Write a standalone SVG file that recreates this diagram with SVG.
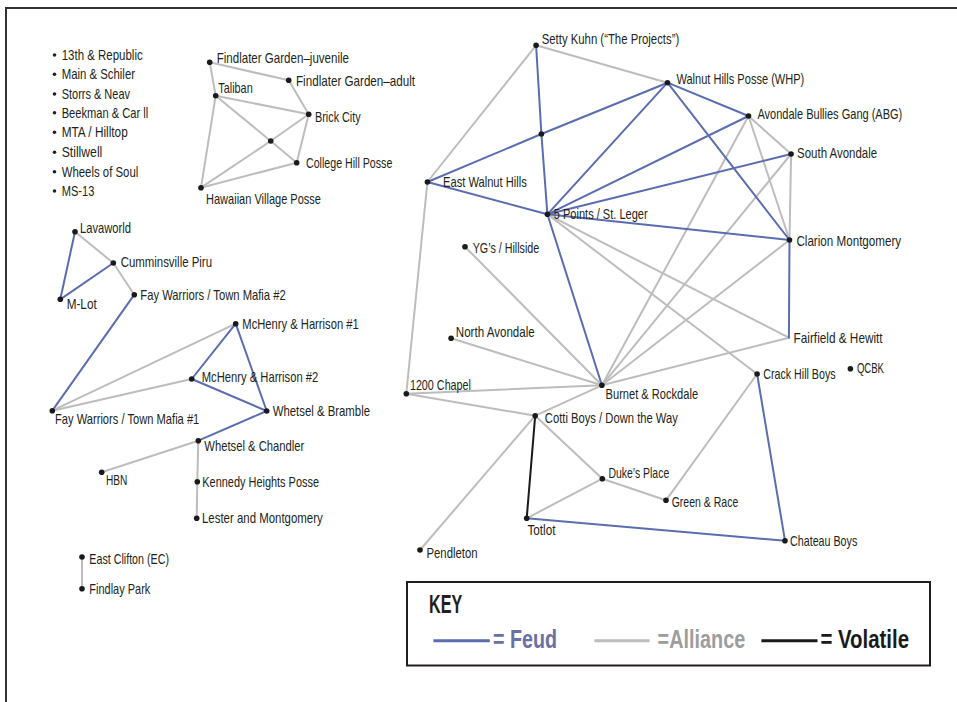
<svg xmlns="http://www.w3.org/2000/svg" width="957" height="702" viewBox="0 0 957 702">
<style>
text{font-family:"Liberation Sans",Arial,sans-serif;font-size:14.5px;fill:#231f20}
.lbl{lengthAdjust:spacingAndGlyphs}
.f{stroke:#5b6db0;stroke-width:2;fill:none;stroke-linecap:round}
.a{stroke:#bdbdbd;stroke-width:2;fill:none;stroke-linecap:round}
.v{stroke:#1a1a1a;stroke-width:2;fill:none;stroke-linecap:round}
.d{fill:#1a1a1a}
.b{fill:#231f20}
.key{font-weight:bold;font-size:25px}
</style>
<rect x="0" y="0" width="957" height="702" fill="#fff"/>
<path d="M6,702 V8 H957" fill="none" stroke="#333" stroke-width="2"/>

<g id="connectors">
<!-- Findlater cluster -->
<line class="a" x1="209.7" y1="62.3" x2="288.7" y2="80.3"/>
<line class="a" x1="209.7" y1="62.3" x2="215.7" y2="95.7"/>
<line class="a" x1="288.7" y1="80.3" x2="308.7" y2="114.3"/>
<line class="a" x1="215.7" y1="95.7" x2="308.7" y2="114.3"/>
<line class="a" x1="215.7" y1="95.7" x2="270.7" y2="141"/>
<line class="a" x1="270.7" y1="141" x2="296.7" y2="162.7"/>
<line class="a" x1="201" y1="187.7" x2="270.7" y2="141"/>
<line class="a" x1="270.7" y1="141" x2="308.7" y2="114.3"/>
<line class="a" x1="308.7" y1="114.3" x2="296.7" y2="162.7"/>
<line class="a" x1="201" y1="187.7" x2="296.7" y2="162.7"/>
<line class="a" x1="215.7" y1="95.7" x2="201" y2="187.7"/>
<!-- Left cluster -->
<line class="a" x1="75" y1="231.7" x2="113.3" y2="263"/>
<line class="f" x1="75" y1="231.7" x2="60.3" y2="299.3"/>
<line class="f" x1="60.3" y1="299.3" x2="113.3" y2="263"/>
<line class="a" x1="113.3" y1="263" x2="134.3" y2="294.7"/>
<line class="f" x1="134.3" y1="294.7" x2="52.3" y2="410.7"/>
<line class="a" x1="52.3" y1="410.7" x2="235.7" y2="323.7"/>
<line class="a" x1="52.3" y1="410.7" x2="191.7" y2="379"/>
<line class="f" x1="235.7" y1="323.7" x2="191.7" y2="379"/>
<line class="f" x1="235.7" y1="323.7" x2="266.7" y2="411"/>
<line class="f" x1="191.7" y1="379" x2="266.7" y2="411"/>
<line class="f" x1="266.7" y1="411" x2="198.3" y2="440.7"/>
<line class="a" x1="198.3" y1="440.7" x2="101.7" y2="472.3"/>
<line class="a" x1="198.3" y1="440.7" x2="197.3" y2="481.7"/>
<line class="a" x1="197.3" y1="481.7" x2="196.7" y2="518.3"/>
<line class="a" x1="82" y1="557" x2="82" y2="588.7"/>
<!-- Right cluster: alliances -->
<line class="a" x1="536.1" y1="45.3" x2="667.5" y2="82.7"/>
<line class="a" x1="536.1" y1="45.3" x2="427.4" y2="182"/>
<line class="a" x1="427.4" y1="182" x2="406.3" y2="393.7"/>
<line class="a" x1="748.5" y1="116" x2="791.1" y2="154"/>
<line class="a" x1="748.5" y1="116" x2="789.5" y2="240"/>
<line class="a" x1="791.1" y1="154" x2="789.5" y2="240"/>
<line class="a" x1="748.5" y1="116" x2="601.9" y2="385.3"/>
<line class="a" x1="791.1" y1="154" x2="601.9" y2="385.3"/>
<line class="a" x1="789.5" y1="240" x2="601.9" y2="385.3"/>
<line class="a" x1="788.9" y1="337.7" x2="601.9" y2="385.3"/>
<line class="a" x1="547.4" y1="214.3" x2="788.9" y2="337.7"/>
<line class="a" x1="547.4" y1="214.3" x2="757.1" y2="374"/>
<line class="a" x1="465" y1="246.7" x2="601.9" y2="385.3"/>
<line class="a" x1="451.1" y1="338.3" x2="601.9" y2="385.3"/>
<line class="a" x1="406.3" y1="393.7" x2="601.9" y2="385.3"/>
<line class="a" x1="406.3" y1="393.7" x2="535.2" y2="415.7"/>
<line class="a" x1="601.9" y1="385.3" x2="535.2" y2="415.7"/>
<line class="a" x1="535.2" y1="415.7" x2="420" y2="550"/>
<line class="a" x1="535.2" y1="415.7" x2="602.3" y2="478.7"/>
<line class="a" x1="602.3" y1="478.7" x2="526.7" y2="518.3"/>
<line class="a" x1="602.3" y1="478.7" x2="666" y2="500.3"/>
<line class="a" x1="666" y1="500.3" x2="757.1" y2="374"/>
<!-- Right cluster: feuds -->
<line class="f" x1="536.1" y1="45.3" x2="541.4" y2="134"/>
<line class="f" x1="541.4" y1="134" x2="547.4" y2="214.3"/>
<line class="f" x1="427.4" y1="182" x2="541.4" y2="134"/>
<line class="f" x1="541.4" y1="134" x2="667.5" y2="82.7"/>
<line class="f" x1="427.4" y1="182" x2="547.4" y2="214.3"/>
<line class="f" x1="667.5" y1="82.7" x2="547.4" y2="214.3"/>
<line class="f" x1="667.5" y1="82.7" x2="748.5" y2="116"/>
<line class="f" x1="667.5" y1="82.7" x2="789.5" y2="240"/>
<line class="f" x1="748.5" y1="116" x2="547.4" y2="214.3"/>
<line class="f" x1="791.1" y1="154" x2="547.4" y2="214.3"/>
<line class="f" x1="547.4" y1="214.3" x2="789.5" y2="240"/>
<line class="f" x1="789.5" y1="240" x2="788.9" y2="337.7"/>
<line class="f" x1="547.4" y1="214.3" x2="601.9" y2="385.3"/>
<line class="f" x1="757.1" y1="374" x2="785" y2="540.7"/>
<line class="f" x1="526.7" y1="518.3" x2="785" y2="540.7"/>
<!-- volatile -->
<line class="v" x1="535.2" y1="415.7" x2="526.7" y2="518.3"/>
</g>

<g id="list">
<circle class="b" cx="54.5" cy="55" r="1.8"/><text x="61.7" y="60" textLength="81" lengthAdjust="spacingAndGlyphs">13th &amp; Republic</text>
<circle class="b" cx="54.5" cy="74.3" r="1.8"/><text x="61.7" y="79.3" textLength="73.3" lengthAdjust="spacingAndGlyphs">Main &amp; Schiler</text>
<circle class="b" cx="54.5" cy="94" r="1.8"/><text x="61.7" y="99" textLength="68.3" lengthAdjust="spacingAndGlyphs">Storrs &amp; Neav</text>
<circle class="b" cx="54.5" cy="112.7" r="1.8"/><text x="61.7" y="117.7" textLength="86.6" lengthAdjust="spacingAndGlyphs">Beekman &amp; Car ll</text>
<circle class="b" cx="54.5" cy="132.3" r="1.8"/><text x="61.7" y="137.3" textLength="66" lengthAdjust="spacingAndGlyphs">MTA / Hilltop</text>
<circle class="b" cx="54.5" cy="152.3" r="1.8"/><text x="61.7" y="157.3" textLength="40.6" lengthAdjust="spacingAndGlyphs">Stillwell</text>
<circle class="b" cx="54.5" cy="171.7" r="1.8"/><text x="61.7" y="176.7" textLength="76.6" lengthAdjust="spacingAndGlyphs">Wheels of Soul</text>
<circle class="b" cx="54.5" cy="191" r="1.8"/><text x="61.7" y="196" textLength="32.6" lengthAdjust="spacingAndGlyphs">MS-13</text>
</g>

<g id="fgj"><circle class="d" cx="209.7" cy="62.3" r="2.8"/><text x="216.7" y="62.7" textLength="132.3" lengthAdjust="spacingAndGlyphs">Findlater Garden–juvenile</text></g>
<g id="fga"><circle class="d" cx="288.7" cy="80.3" r="2.8"/><text x="296" y="86" textLength="119" lengthAdjust="spacingAndGlyphs">Findlater Garden–adult</text></g>
<g id="tal"><circle class="d" cx="215.7" cy="95.7" r="2.8"/><text x="218.3" y="93.3" textLength="34.4" lengthAdjust="spacingAndGlyphs">Taliban</text></g>
<g id="bri"><circle class="d" cx="308.7" cy="114.3" r="2.8"/><text x="315" y="122" textLength="45.7" lengthAdjust="spacingAndGlyphs">Brick City</text></g>
<g id="fcx"><circle class="d" cx="270.7" cy="141" r="2.8"/></g>
<g id="chp"><circle class="d" cx="296.7" cy="162.7" r="2.8"/><text x="306" y="168.3" textLength="86.3" lengthAdjust="spacingAndGlyphs">College Hill Posse</text></g>
<g id="hvp"><circle class="d" cx="201" cy="187.7" r="2.8"/><text x="206" y="204" textLength="115" lengthAdjust="spacingAndGlyphs">Hawaiian Village Posse</text></g>

<g id="lav"><circle class="d" cx="75" cy="231.7" r="2.8"/><text x="80" y="233.3" textLength="51" lengthAdjust="spacingAndGlyphs">Lavaworld</text></g>
<g id="cum"><circle class="d" cx="113.3" cy="263" r="2.8"/><text x="120.7" y="267.3" textLength="91.3" lengthAdjust="spacingAndGlyphs">Cumminsville Piru</text></g>
<g id="mlot"><circle class="d" cx="60.3" cy="299.3" r="2.8"/><text x="66.7" y="309.3" textLength="30" lengthAdjust="spacingAndGlyphs">M-Lot</text></g>
<g id="fay2"><circle class="d" cx="134.3" cy="294.7" r="2.8"/><text x="140.3" y="300.3" textLength="145.4" lengthAdjust="spacingAndGlyphs">Fay Warriors / Town Mafia #2</text></g>
<g id="mh1"><circle class="d" cx="235.7" cy="323.7" r="2.8"/><text x="242.3" y="328.7" textLength="116.4" lengthAdjust="spacingAndGlyphs">McHenry &amp; Harrison #1</text></g>
<g id="mh2"><circle class="d" cx="191.7" cy="379" r="2.8"/><text x="201.7" y="382" textLength="116.6" lengthAdjust="spacingAndGlyphs">McHenry &amp; Harrison #2</text></g>
<g id="fay1"><circle class="d" cx="52.3" cy="410.7" r="2.8"/><text x="55" y="424" textLength="144.3" lengthAdjust="spacingAndGlyphs">Fay Warriors / Town Mafia #1</text></g>
<g id="wb"><circle class="d" cx="266.7" cy="411" r="2.8"/><text x="272.7" y="416.3" textLength="97.3" lengthAdjust="spacingAndGlyphs">Whetsel &amp; Bramble</text></g>
<g id="wc"><circle class="d" cx="198.3" cy="440.7" r="2.8"/><text x="204.3" y="451.3" textLength="100" lengthAdjust="spacingAndGlyphs">Whetsel &amp; Chandler</text></g>
<g id="hbn"><circle class="d" cx="101.7" cy="472.3" r="2.8"/><text x="106" y="485" textLength="21.3" lengthAdjust="spacingAndGlyphs">HBN</text></g>
<g id="khp"><circle class="d" cx="197.3" cy="481.7" r="2.8"/><text x="202.3" y="486.7" textLength="116.7" lengthAdjust="spacingAndGlyphs">Kennedy Heights Posse</text></g>
<g id="lm"><circle class="d" cx="196.7" cy="518.3" r="2.8"/><text x="202" y="523.3" textLength="120.7" lengthAdjust="spacingAndGlyphs">Lester and Montgomery</text></g>
<g id="ec"><circle class="d" cx="82" cy="557" r="2.8"/><text x="89.3" y="564" textLength="79.7" lengthAdjust="spacingAndGlyphs">East Clifton (EC)</text></g>
<g id="fpk"><circle class="d" cx="82" cy="588.7" r="2.8"/><text x="89.3" y="594.3" textLength="61" lengthAdjust="spacingAndGlyphs">Findlay Park</text></g>

<g id="sk"><circle class="d" cx="536.1" cy="45.3" r="2.8"/><text x="541.7" y="44.3" textLength="137.5" lengthAdjust="spacingAndGlyphs">Setty Kuhn (“The Projects”)</text></g>
<g id="whp"><circle class="d" cx="667.5" cy="82.7" r="2.8"/><text x="676.4" y="84.3" textLength="127.9" lengthAdjust="spacingAndGlyphs">Walnut Hills Posse (WHP)</text></g>
<g id="abg"><circle class="d" cx="748.5" cy="116" r="2.8"/><text x="757.4" y="119" textLength="144.9" lengthAdjust="spacingAndGlyphs">Avondale Bullies Gang (ABG)</text></g>
<g id="sa"><circle class="d" cx="791.1" cy="154" r="2.8"/><text x="797.1" y="158.3" textLength="80" lengthAdjust="spacingAndGlyphs">South Avondale</text></g>
<g id="rmx"><circle class="d" cx="541.4" cy="134" r="2.8"/></g>
<g id="ewh"><circle class="d" cx="427.4" cy="182" r="2.8"/><text x="443" y="186.7" textLength="83.8" lengthAdjust="spacingAndGlyphs">East Walnut Hills</text></g>
<g id="fivep"><circle class="d" cx="547.4" cy="214.3" r="2.8"/><text x="553.8" y="219.3" textLength="93.8" lengthAdjust="spacingAndGlyphs">5 Points / St. Leger</text></g>
<g id="cm"><circle class="d" cx="789.5" cy="240" r="2.8"/><text x="796.4" y="245.7" textLength="104.8" lengthAdjust="spacingAndGlyphs">Clarion Montgomery</text></g>
<g id="yg"><circle class="d" cx="465" cy="246.7" r="2.8"/><text x="472.7" y="253.3" textLength="66.6" lengthAdjust="spacingAndGlyphs">YG’s / Hillside</text></g>
<g id="na"><circle class="d" cx="451.1" cy="338.3" r="2.8"/><text x="455.8" y="337.3" textLength="78.9" lengthAdjust="spacingAndGlyphs">North Avondale</text></g>
<g id="ff"><text x="793.6" y="343.3" textLength="89" lengthAdjust="spacingAndGlyphs">Fairfield &amp; Hewitt</text></g>
<g id="chb"><circle class="d" cx="757.1" cy="374" r="2.8"/><text x="763.2" y="379" textLength="72.4" lengthAdjust="spacingAndGlyphs">Crack Hill Boys</text></g>
<g id="qcbk"><circle class="d" cx="850.4" cy="368.7" r="2.8"/><text x="856.9" y="372.7" textLength="27.1" lengthAdjust="spacingAndGlyphs">QCBK</text></g>
<g id="c1200"><circle class="d" cx="406.3" cy="393.7" r="2.8"/><text x="409.9" y="390" textLength="61.1" lengthAdjust="spacingAndGlyphs">1200 Chapel</text></g>
<g id="br"><circle class="d" cx="601.9" cy="385.3" r="2.8"/><text x="605.6" y="399" textLength="92.5" lengthAdjust="spacingAndGlyphs">Burnet &amp; Rockdale</text></g>
<g id="cotti"><circle class="d" cx="535.2" cy="415.7" r="2.8"/><text x="544.8" y="423.3" textLength="133.1" lengthAdjust="spacingAndGlyphs">Cotti Boys / Down the Way</text></g>
<g id="duke"><circle class="d" cx="602.3" cy="478.7" r="2.8"/><text x="608.4" y="478.3" textLength="60.8" lengthAdjust="spacingAndGlyphs">Duke’s Place</text></g>
<g id="gr"><circle class="d" cx="666" cy="500.3" r="2.8"/><text x="671.7" y="507" textLength="66.6" lengthAdjust="spacingAndGlyphs">Green &amp; Race</text></g>
<g id="tot"><circle class="d" cx="526.7" cy="518.3" r="2.8"/><text x="527.4" y="535.3" textLength="28.2" lengthAdjust="spacingAndGlyphs">Totlot</text></g>
<g id="chat"><circle class="d" cx="785" cy="540.7" r="2.8"/><text x="790" y="545.7" textLength="67.3" lengthAdjust="spacingAndGlyphs">Chateau Boys</text></g>
<g id="pend"><circle class="d" cx="420" cy="550" r="2.8"/><text x="426.5" y="558" textLength="51" lengthAdjust="spacingAndGlyphs">Pendleton</text></g>

<g id="key">
<rect x="407" y="582" width="523" height="83.5" fill="#fff" stroke="#231f20" stroke-width="2"/>
<text class="key" x="429" y="612.7" textLength="33.3" lengthAdjust="spacingAndGlyphs">KEY</text>
<line x1="433.4" y1="640.7" x2="489.8" y2="640.7" stroke="#5b6db0" stroke-width="3"/>
<text class="key" x="493" y="648.3" textLength="64" lengthAdjust="spacingAndGlyphs" style="fill:#6b70a3">= Feud</text>
<line x1="594.3" y1="640.7" x2="649.7" y2="640.7" stroke="#bdbdbd" stroke-width="3"/>
<text class="key" x="657.6" y="648.3" textLength="87.6" lengthAdjust="spacingAndGlyphs" style="fill:#9d9d9d">=Alliance</text>
<line x1="761.4" y1="640.7" x2="817.5" y2="640.7" stroke="#1a1a1a" stroke-width="3"/>
<text class="key" x="820.4" y="648.3" textLength="88.6" lengthAdjust="spacingAndGlyphs" style="fill:#1a1a1a">= Volatile</text>
</g>
</svg>
